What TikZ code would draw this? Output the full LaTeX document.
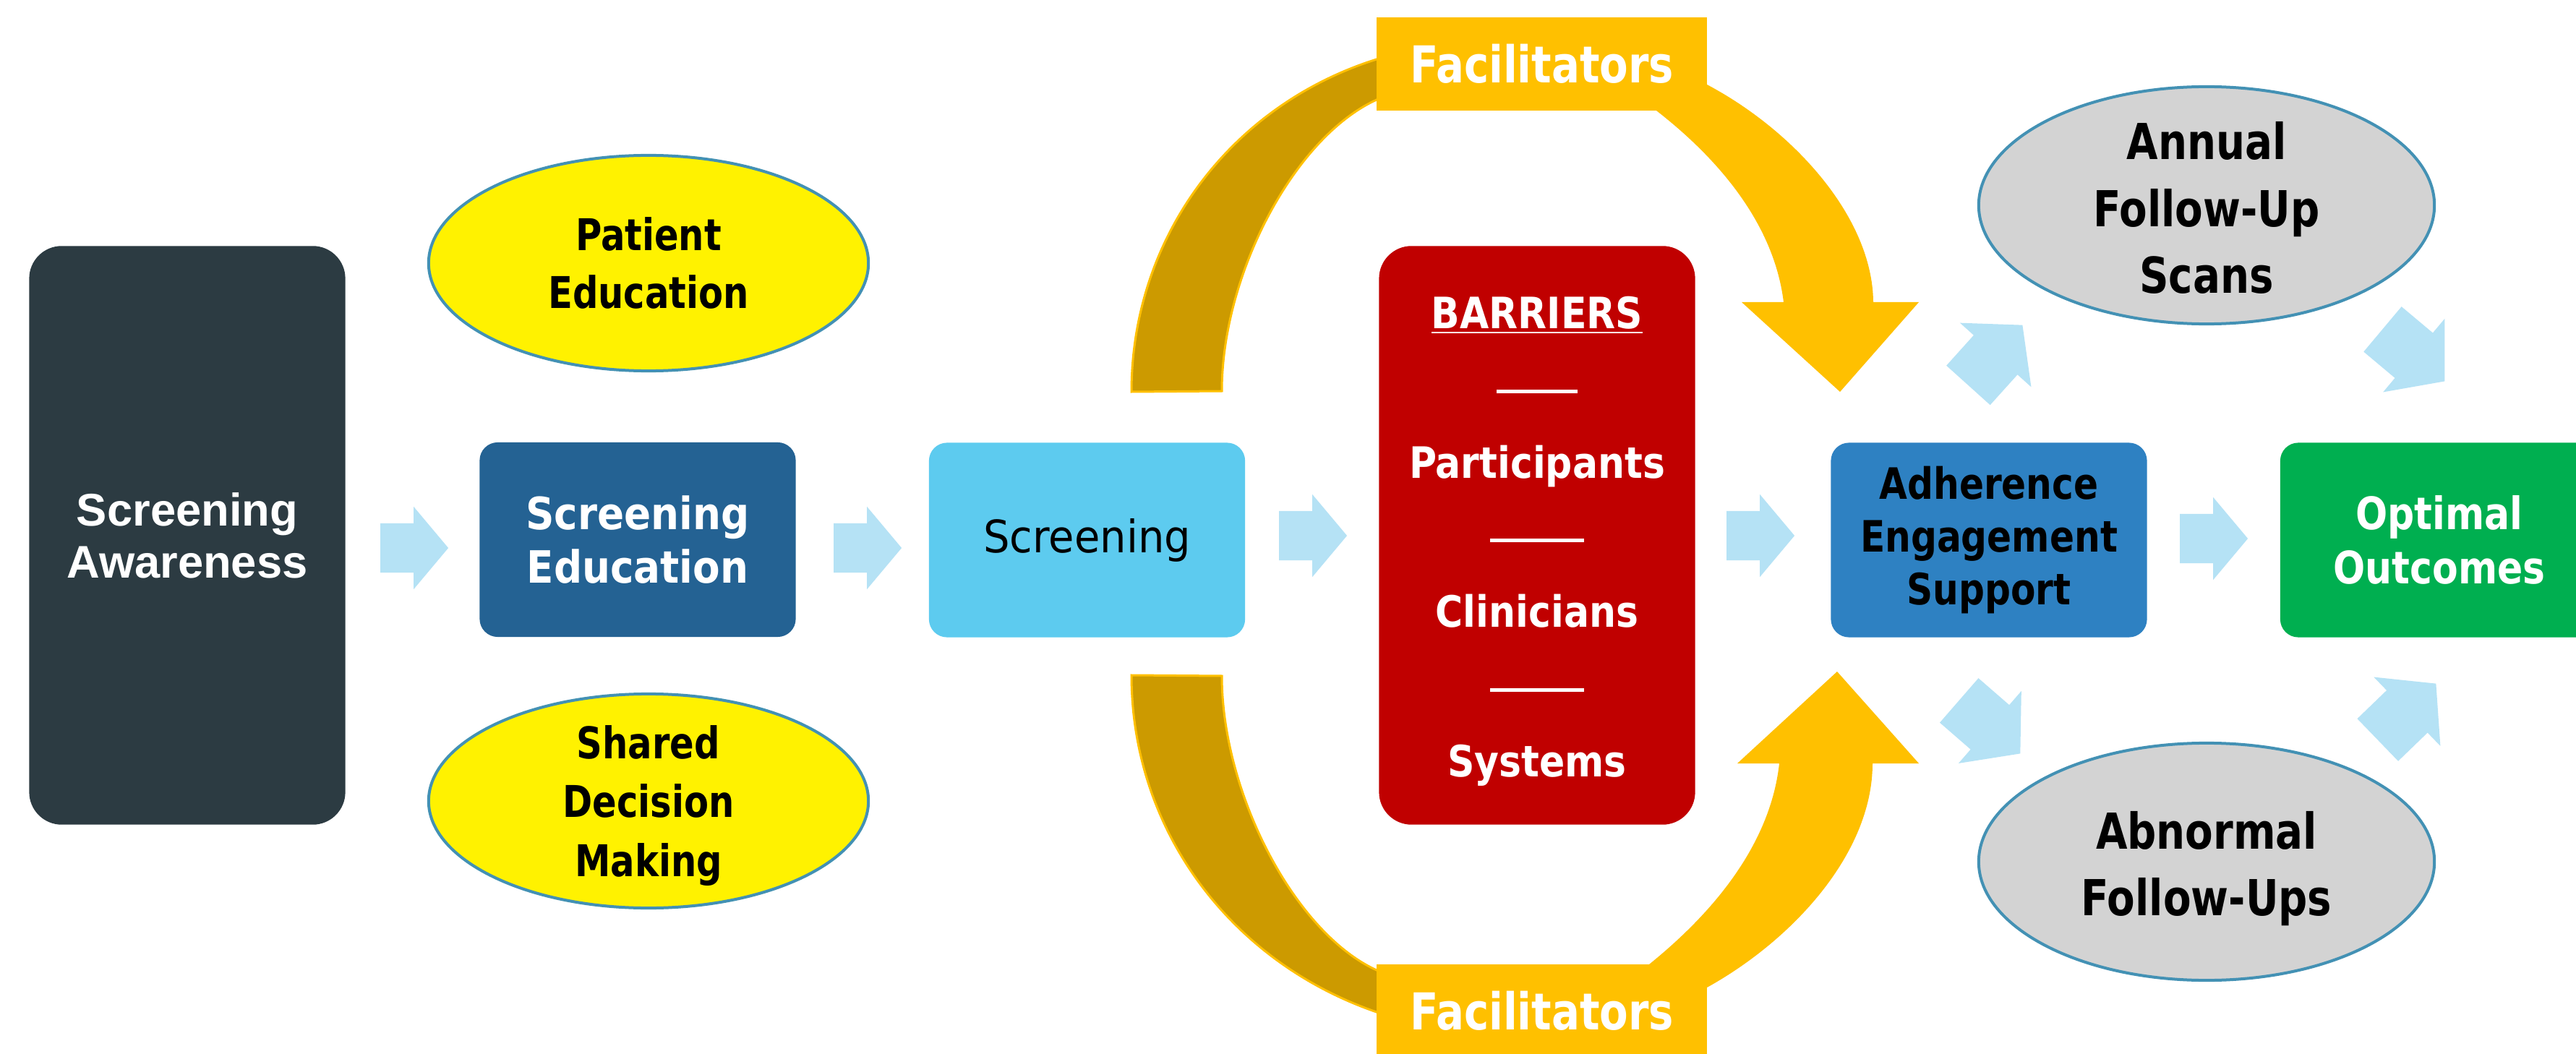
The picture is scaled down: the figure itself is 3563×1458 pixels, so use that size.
\documentclass[tikz,border=0pt]{standalone}
\usepackage{fontspec}
\usetikzlibrary{shapes.geometric,shapes.arrows}
\newfontfamily\arialfam{Liberation Sans}
\newfontfamily\tahA[FakeStretch=0.82]{DejaVu Sans}
\newfontfamily\tahB[FakeStretch=0.89]{DejaVu Sans}
\newfontfamily\tahC[FakeStretch=0.93]{DejaVu Sans}
\newfontfamily\tahD[FakeStretch=0.87]{DejaVu Sans}
\newfontfamily\tahE[FakeStretch=0.84]{DejaVu Sans}
\newcommand\fsz[2]{\fontsize{#1}{#2}\selectfont}
\definecolor{awarefill}{HTML}{2C3B42}
\definecolor{edufill}{HTML}{246293}
\definecolor{scrfill}{HTML}{5DCBEF}
\definecolor{barrfill}{HTML}{C00000}
\definecolor{adhfill}{HTML}{2E81C2}
\definecolor{optfill}{HTML}{00AF50}
\definecolor{ovalline}{HTML}{4391B4}
\definecolor{ovalgray}{HTML}{D3D3D3}
\definecolor{flowblue}{HTML}{B5E2F5}
\definecolor{facgold}{HTML}{FFC000}
\definecolor{golddark}{HTML}{CC9A00}
\begin{document}
\begin{tikzpicture}[x=0.01cm,y=-0.01cm,
  bigbox/.style={rectangle, inner sep=0pt, align=center, rounded corners=0.45cm,
                 minimum width=4.37cm, minimum height=8cm},
  midbox/.style={rectangle, inner sep=0pt, align=center, rounded corners=0.25cm,
                 minimum width=4.37cm, minimum height=2.69cm},
  oval/.style={ellipse, draw=ovalline, line width=0.04cm, inner sep=0pt},
  ovaltext/.style={align=center, inner sep=0pt},
  flow/.style={single arrow, fill=flowblue, draw=none, inner xsep=0pt, inner ysep=0.335cm,
               minimum height=0.94cm, single arrow head extend=0.23cm,
               single arrow tip angle=100, anchor=tip},
  diag/.style={flow, inner ysep=0.4cm, minimum height=1.12cm,
               single arrow head extend=0.255cm},
  tag/.style={rectangle, fill=facgold, inner sep=0pt, minimum width=4.57cm,
              minimum height=1.29cm, text=white, font=\tahA\bfseries\fsz{20}{24}},
  band/.style={fill=golddark, draw=facgold, line width=0.03cm},
]
\fill[white] (0,0) rectangle (3563,1458);
\path[use as bounding box] (0,0) rectangle (3563,1458);

% facilitator bands (drawn beneath their labels)
\path[band] (1565,542) .. controls (1565,329) and (1701,146) .. (1904,82)
  -- (1920,82) -- (1920,138) -- (1904,138)
  .. controls (1790,190) and (1690,380) .. (1690,541) -- cycle;
\fill[facgold] (2300,100) -- (2361,117) .. controls (2480,180) and (2590,300) .. (2591,418)
  -- (2654,418) -- (2545,542) -- (2409,418) -- (2467,418)
  .. controls (2455,320) and (2390,230) .. (2291,153) -- (2300,140) -- cycle;
\path[band] (1565,934) .. controls (1565,1147) and (1701,1330) .. (1904,1400)
  -- (1920,1400) -- (1920,1342) -- (1904,1342)
  .. controls (1790,1290) and (1690,1096) .. (1690,935) -- cycle;
\fill[facgold] (2300,1380) -- (2361,1366) .. controls (2480,1300) and (2590,1180) .. (2590,1056)
  -- (2654,1056) -- (2541,929) -- (2403,1056) -- (2461,1056)
  .. controls (2450,1156) and (2385,1250) .. (2281,1334) -- (2290,1350) -- cycle;

\node[tag] (facT) at (2132.5,88.5) {Facilitators};
\node[tag] (facB) at (2132.5,1398.5) {Facilitators};

% main chain
\node[bigbox, fill=awarefill, text=white, font=\arialfam\bfseries\fsz{18}{20.5}]
  (aware) at (259,740.5) {Screening\\Awareness};
\node[midbox, fill=edufill, text=white, font=\tahB\bfseries\fsz{17.5}{20.8}]
  (scredu) at (882,746.5) {Screening\\Education};
\node[midbox, fill=scrfill, text=black, font=\tahC\fsz{17.6}{21}]
  (scr) at (1503.5,747) {Screening};
\node[bigbox, fill=barrfill] (barr) at (2126,740.5) {};
\node[align=center, text=white, font=\tahD\bfseries\fsz{17}{29.4}, inner sep=0pt, yshift=-0.082cm]
  (barrtext) at (barr) {\underline{BARRIERS}\\\rule[4pt]{32pt}{1.4pt}\\Participants\\
  \rule[4pt]{36.7pt}{1.4pt}\\Clinicians\\\rule[4pt]{36.7pt}{1.4pt}\\Systems};
\node[midbox, fill=adhfill, text=black, font=\tahE\bfseries\fsz{17}{20.8}]
  (adh) at (2751,747) {Adherence\\Engagement\\Support};
\node[midbox, fill=optfill, text=white, minimum width=4.4cm, font=\tahE\bfseries\fsz{17.6}{21.3}]
  (opt) at (3374,747) {Optimal\\Outcomes};

% ovals
\node[oval, fill=yellow, minimum width=6.08cm, minimum height=2.98cm] (pat) at (897,364) {};
\node[ovaltext, font=\tahA\bfseries\fsz{17.2}{22.8}] (pattext) at (pat) {Patient\\Education};
\node[oval, fill=yellow, minimum width=6.08cm, minimum height=2.96cm] (sdm) at (897,1108) {};
\node[ovaltext, font=\tahA\bfseries\fsz{17.2}{23.2}, yshift=-0.065cm] (sdmtext) at (sdm)
  {Shared\\Decision\\Making};
\node[oval, fill=ovalgray, minimum width=6.3cm, minimum height=3.28cm] (ann) at (3052,284) {};
\node[ovaltext, font=\tahA\bfseries\fsz{19.5}{26.4}, yshift=-0.035cm] (anntext) at (ann)
  {Annual\\Follow-Up\\Scans};
\node[oval, fill=ovalgray, minimum width=6.3cm, minimum height=3.28cm] (abn) at (3052,1192) {};
\node[ovaltext, font=\tahA\bfseries\fsz{19.5}{26}, yshift=-0.095cm] (abntext) at (abn)
  {Abnormal\\Follow-Ups};

% flow arrows
\node[flow] (a1) at (621,758) {};
\node[flow] (a2) at (1248,758) {};
\node[flow] (a3) at (1864,741) {};
\node[flow] (a4) at (2483,741) {};
\node[flow] (a5) at (3110,745) {};
\node[diag, rotate=48] (d1) at (2798,449) {};
\node[diag, rotate=-40] (d2) at (3382,528) {};
\node[diag, rotate=-41] (d3) at (2795,1043) {};
\node[diag, rotate=44] (d4) at (3370,945) {};
\end{tikzpicture}
\end{document}
